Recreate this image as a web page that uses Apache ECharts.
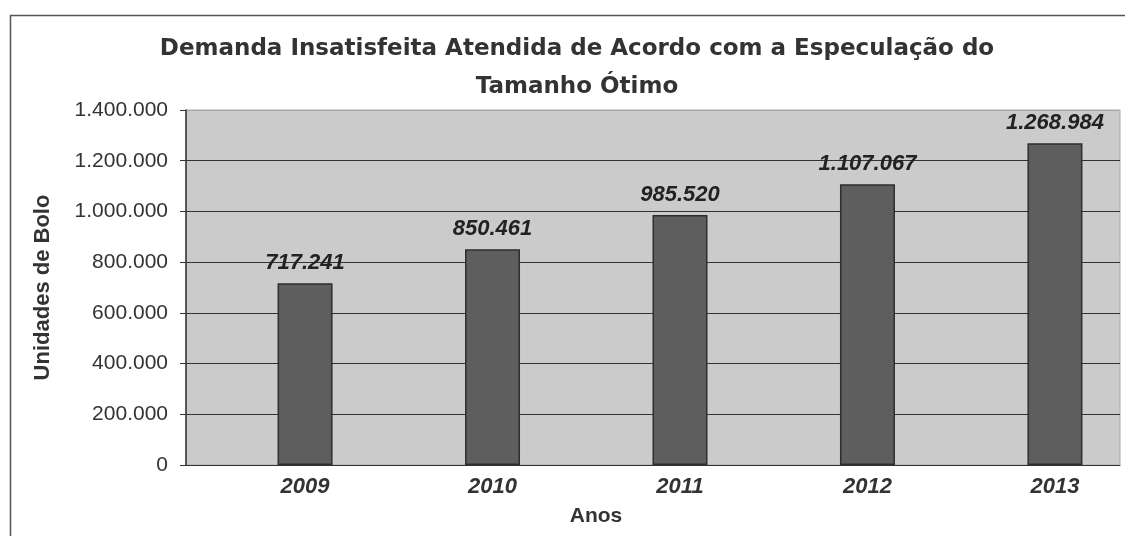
<!DOCTYPE html>
<html>
<head>
<meta charset="utf-8">
<script src="https://cdn.jsdelivr.net/npm/echarts@6/dist/echarts.min.js"></script>
<style>
html,body{margin:0;padding:0;background:#fff;}
#c{width:1125px;height:536px;}
</style>
</head>
<body>
<div id="c"></div>
<script>
const years = [2009, 2010, 2011, 2012, 2013];
const values = [717241, 850461, 985520, 1107067, 1268984];
const yTicks = [0, 200000, 400000, 600000, 800000, 1000000, 1200000, 1400000];
const titleText = 'Demanda Insatisfeita Atendida de Acordo com a Especulação do\nTamanho Ótimo';
const yName = 'Unidades de Bolo';
const xName = 'Anos';

function fmt(v) {
  return String(Math.round(v)).replace(/\B(?=(\d{3})+(?!\d))/g, '.');
}

const chart = echarts.init(document.getElementById('c'), null, {renderer: 'canvas'});
chart.setOption({
  backgroundColor: '#ffffff',
  animation: false,
  graphic: [{
    type: 'rect',
    left: 8, top: 13,
    shape: {x: 0, y: 0, width: 1200, height: 600},
    style: {fill: 'none', stroke: '#555', lineWidth: 1.5},
    z: -10, silent: true
  }],
  title: {
    text: titleText,
    left: 572, top: 25,
    textAlign: 'center',
    textStyle: {
      fontFamily: 'DejaVu Sans, Liberation Sans, Arial, sans-serif',
      fontSize: 23, fontWeight: 'bold', color: '#333',
      lineHeight: 38
    }
  },
  grid: {
    left: 186, top: 110, right: 5, bottom: 71,
    show: true, backgroundColor: '#cbcbcb', borderColor: '#a8a8a8', borderWidth: 1
  },
  xAxis: {
    type: 'value',
    min: 2008.365, max: 2013.347,
    name: xName, nameLocation: 'middle', nameGap: 41,
    nameTextStyle: {fontFamily: 'Liberation Sans, Arial, sans-serif', fontSize: 21, fontWeight: 'bold', color: '#333', padding: [0, 114, 0, 0]},
    axisLine: {show: true, onZero: false, lineStyle: {color: '#333', width: 1}},
    axisTick: {show: false},
    splitLine: {show: false},
    axisLabel: {
      customValues: years,
      formatter: v => String(Math.round(v)),
      margin: 11,
      fontFamily: 'Liberation Sans, Arial, sans-serif',
      fontSize: 22, fontStyle: 'italic', fontWeight: 'bold', color: '#333'
    }
  },
  yAxis: {
    type: 'value',
    min: 0, max: 1400000, interval: 200000,
    name: yName, nameLocation: 'middle', nameGap: 132, nameRotate: 90,
    nameTextStyle: {fontFamily: 'Liberation Sans, Arial, sans-serif', fontSize: 22, fontWeight: 'bold', color: '#333'},
    axisLine: {show: true, lineStyle: {color: '#333', width: 1.5}},
    axisTick: {show: true, length: 6, lineStyle: {color: '#333'}},
    splitLine: {show: true, lineStyle: {color: ['#333','#333','#333','#333','#333','#333','#333','#a8a8a8'], width: 1.2}},
    axisLabel: {
      formatter: v => fmt(v),
      margin: 18,
      fontFamily: 'Liberation Sans, Arial, sans-serif',
      fontSize: 21, color: '#333'
    }
  },
  series: [{
    type: 'bar',
    data: years.map((y, i) => [y, values[i]]),
    barWidth: 55,
    itemStyle: {color: '#5e5e5e', borderColor: '#2e2e2e', borderWidth: 1.5},
    label: {
      show: true, position: 'top', distance: 9,
      formatter: p => fmt(p.value[1]),
      fontFamily: 'Liberation Sans, Arial, sans-serif',
      fontSize: 22, fontStyle: 'italic', fontWeight: 'bold', color: '#222'
    }
  }]
});
</script>
</body>
</html>
